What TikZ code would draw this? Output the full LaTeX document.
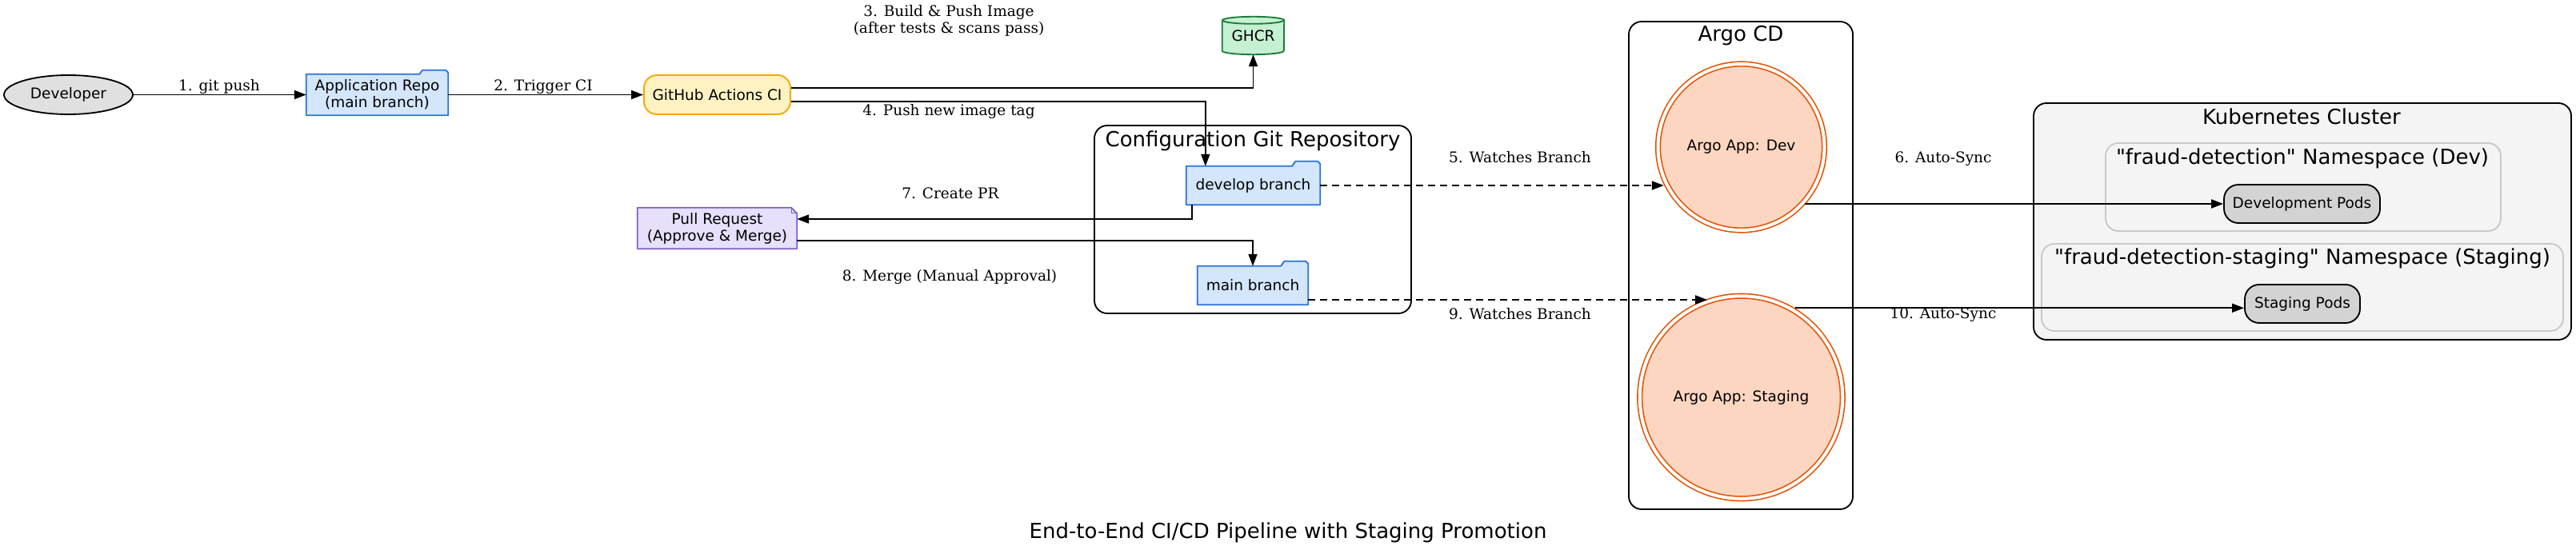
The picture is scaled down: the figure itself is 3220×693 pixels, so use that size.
\documentclass[tikz,border=0pt]{standalone}
\usepackage{fontspec}
\newfontfamily\sansf{DejaVu Sans}
\newfontfamily\seriff{DejaVu Serif}
\usetikzlibrary{shapes.geometric,arrows.meta,calc,backgrounds}
\definecolor{devfill}{HTML}{E0E0E0}
\definecolor{repofill}{HTML}{D4E6FC}
\definecolor{repoline}{HTML}{2A72DC}
\definecolor{cifill}{HTML}{FFF2C2}
\definecolor{ciline}{HTML}{F5A800}
\definecolor{ghcrfill}{HTML}{C6F0D2}
\definecolor{ghcrline}{HTML}{1D7A3A}
\definecolor{prfill}{HTML}{E6E0FA}
\definecolor{prline}{HTML}{7E5FC8}
\definecolor{argofill}{HTML}{FDD6C2}
\definecolor{argoline}{HTML}{E65100}
\definecolor{podfill}{HTML}{D3D3D3}
\definecolor{k8sfill}{HTML}{F4F4F4}
\definecolor{nsline}{HTML}{C8C8C8}
\begin{document}
\begin{tikzpicture}[x=1pt,y=-1pt,
  nf/.style={font=\sansf\fontsize{18.5}{21}\selectfont, align=center, inner sep=0pt},
  ef/.style={font=\seriff\fontsize{18.5}{21}\selectfont, align=center, inner sep=0pt},
  cf/.style={font=\sansf\fontsize{26}{30}\selectfont, inner sep=0pt},
  lw/.style={line width=1.85pt},
  arr/.style={lw, -{Triangle[length=15pt,width=11pt]}},
  dasharr/.style={arr, dash pattern=on 9pt off 6pt},
  clusterbox/.style={lw, rounded corners=16pt},
  argoapp/.style={nf, circle, fill=argofill, draw=argoline, line width=1.6pt, double, double distance=4pt, outer sep=3.6pt},
  podbox/.style={nf, draw, lw, fill=podfill, rounded corners=18pt, minimum height=48pt},
]
\useasboundingbox (0,0) rectangle (3220,693);

% ---------- nodes ----------
\node[nf, ellipse, draw, lw, fill=devfill, minimum width=161pt, minimum height=49pt] (dev) at (85.5,118.5) {Developer};
\node[nf, minimum width=177pt, minimum height=51pt] (repo) at (471.5,118.5) {Application Repo\\(main branch)};
\node[nf, draw=ciline, fill=cifill, lw, rounded corners=16pt, minimum width=183pt, minimum height=49pt] (ci) at (896.5,118.5) {GitHub Actions CI};
\node[nf, minimum width=77pt, minimum height=47pt] (ghcr) at (1566.5,44.5) {GHCR};
\node[nf, minimum width=199pt, minimum height=51pt] (pr) at (896.5,285.5) {Pull Request\\(Approve \& Merge)};
\node[nf, minimum width=167pt, minimum height=48pt] (develop) at (1566.5,232) {develop branch};
\node[nf, minimum width=138pt, minimum height=48pt] (mainbr) at (1566,357) {main branch};
\node[argoapp, minimum size=208pt] (appdev) at (2176.5,184) {Argo App: Dev};
\node[argoapp, minimum size=253.5pt] (appstg) at (2176.5,497) {Argo App: Staging};
\node[podbox, minimum width=195pt] (devpods) at (2877.5,255) {Development Pods};
\node[podbox, minimum width=144pt] (stgpods) at (2878,380) {Staging Pods};

% ---------- cluster titles and graph title ----------
\node[cf, anchor=base] (cfgtitle) at (1566,183) {Configuration Git Repository};
\node[cf, anchor=base] (argotitle) at (2176,52) {Argo CD};
\node[cf, anchor=base] (k8stitle) at (2877,155) {Kubernetes Cluster};
\node[cf, anchor=base] (nsdevtitle) at (2878,205) {"fraud-detection" Namespace (Dev)};
\node[cf, anchor=base] (nsstgtitle) at (2878,330) {"fraud-detection-staging" Namespace (Staging)};
\node[cf, anchor=base] (title) at (1610,673) {End-to-End CI/CD Pipeline with Staging Promotion};

% ---------- background shapes ----------
\begin{scope}[on background layer]
  \draw[clusterbox] (1368,157) rectangle (1764,392);
  \draw[clusterbox] (2036,27) rectangle (2316,637);
  \draw[clusterbox, fill=k8sfill] (2542,129) rectangle (3214,425);
  \draw[clusterbox, draw=nsline, fill=k8sfill] (2632,179) rectangle (3126,289);
  \draw[clusterbox, draw=nsline, fill=k8sfill] (2552,305) rectangle (3204,414);
  % folders
  \draw[lw, draw=repoline, fill=repofill, line join=round] (repo.south west) -- (repo.north west) -- ($(repo.north east)+(-36,0)$) -- ++(4,-5) -- ($(repo.north east)+(-3,-5)$) -- ($(repo.north east)+(0,-2)$) -- (repo.south east) -- cycle;
  \draw[lw, draw=repoline, fill=repofill, line join=round] (develop.south west) -- (develop.north west) -- ($(develop.north east)+(-35,0)$) -- ++(4,-6) -- ($(develop.north east)+(-3,-6)$) -- ($(develop.north east)+(0,-3)$) -- (develop.south east) -- cycle;
  \draw[lw, draw=repoline, fill=repofill, line join=round] (mainbr.south west) -- (mainbr.north west) -- ($(mainbr.north east)+(-34,0)$) -- ++(4,-6) -- ($(mainbr.north east)+(-3,-6)$) -- ($(mainbr.north east)+(0,-3)$) -- (mainbr.south east) -- cycle;
  % cylinder
  \draw[lw, draw=ghcrline, fill=ghcrfill] ($(ghcr.north west)+(0,4.5)$) -- ($(ghcr.south west)+(0,-4.5)$) arc[start angle=180,end angle=360,x radius=38.5pt,y radius=4.5pt] -- ($(ghcr.north east)+(0,4.5)$) arc[start angle=0,end angle=180,x radius=38.5pt,y radius=4.5pt] -- cycle;
  \draw[lw, draw=ghcrline] ($(ghcr.north west)+(0,4.5)$) arc[start angle=180,end angle=360,x radius=38.5pt,y radius=4.5pt];
  % note
  \draw[lw, draw=prline, fill=prfill, line join=round] (pr.south west) -- (pr.north west) -- ($(pr.north east)+(-7,0)$) -- ($(pr.north east)+(0,7)$) -- (pr.south east) -- cycle;
  \draw[line width=1pt, draw=prline] ($(pr.north east)+(-7,0)$) -- ($(pr.north east)+(-7,7)$) -- ($(pr.north east)+(0,7)$);
\end{scope}

% ---------- edges ----------
\coordinate (ciup) at ($(ci.east)+(0,-8.5)$);
\coordinate (cidown) at ($(ci.east)+(0,8.5)$);
\coordinate (devin) at ($(develop.north west)+(24,0)$);
\coordinate (devout) at ($(develop.south west)+(7,0)$);
\coordinate (prin) at ($(pr.east)+(0,-11.5)$);
\coordinate (prout) at ($(pr.east)+(0,15.5)$);
\coordinate (mainout) at ($(mainbr.east)+(0,18)$);
\draw[arr] (dev.east) -- (repo.west);
\draw[arr] (repo.east) -- (ci.west);
\draw[arr] (ciup) -| (ghcr.south);
\draw[arr] (cidown) -| (devin);
\draw[dasharr] (develop.east) -- (develop.east -| appdev.206);
\draw[arr] (appdev.318 |- devpods.west) -- (devpods.west);
\draw[arr] (devout) |- (prin);
\draw[arr] (prout) -| (mainbr.north);
\draw[dasharr] (mainout) -- (mainout -| appstg.109);
\draw[arr] (appstg.59) -- (appstg.59 -| stgpods.west);

% ---------- edge labels ----------
\node[ef, anchor=base] (l1) at (274,113) {1. git push};
\node[ef, anchor=base] (l2) at (679,113) {2. Trigger CI};
\node[ef] (l3) at (1186,26) {3. Build \& Push Image\\(after tests \& scans pass)};
\node[ef, anchor=base] (l4) at (1186,144) {4. Push new image tag};
\node[ef, anchor=base] (l5) at (1900,203) {5. Watches Branch};
\node[ef, anchor=base] (l6) at (2429,203) {6. Auto-Sync};
\node[ef, anchor=base] (l7) at (1188,248) {7. Create PR};
\node[ef, anchor=base] (l8) at (1187,351) {8. Merge (Manual Approval)};
\node[ef, anchor=base] (l9) at (1900,399) {9. Watches Branch};
\node[ef, anchor=base] (l10) at (2429,398) {10. Auto-Sync};
\end{tikzpicture}
\end{document}
